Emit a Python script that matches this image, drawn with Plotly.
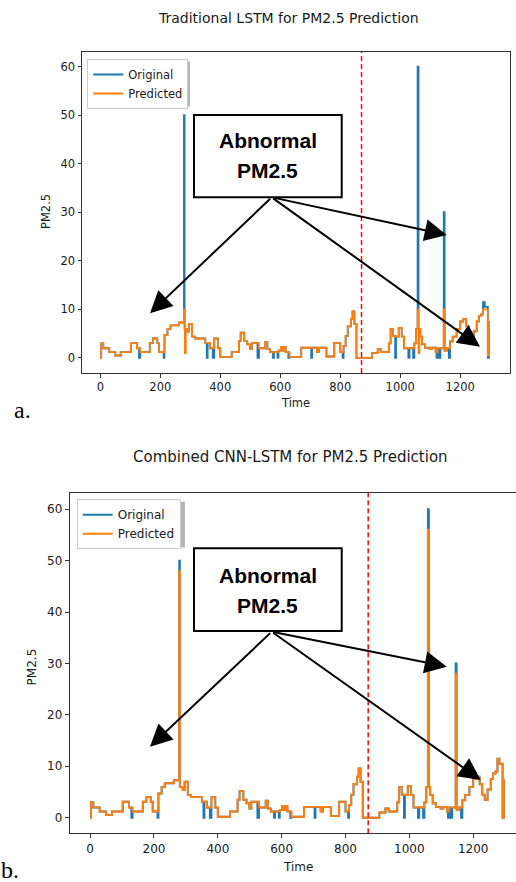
import plotly.graph_objects as go

W, H = 516, 882

# ---------------- data ----------------
# Original PM2.5 series: change points (time index, value); drawn as steps
T_ORIG = [0, 3, 10, 30, 50, 68, 102, 122, 129, 133, 165, 176, 190, 196, 211, 214, 224, 234, 262, 279, 281,
          290, 296, 306, 316, 350, 355, 358, 366, 375, 380, 392, 400, 438, 462, 468, 480, 490, 499, 505, 524,
          529, 550, 557, 566, 576, 579, 591, 594, 602, 607, 612, 618, 627, 631, 670, 703, 706, 722, 729, 754,
          780, 800, 808, 811, 818, 825, 836, 841, 847, 854, 906, 925, 935, 962, 968, 976, 983, 986, 995, 1005,
          1013, 1027, 1031, 1043, 1047, 1053, 1058, 1061, 1065, 1073, 1083, 1098, 1106, 1118, 1121, 1125, 1130,
          1134, 1145, 1148, 1155, 1162, 1166, 1175, 1188, 1200, 1210, 1220, 1228, 1236, 1245, 1255, 1262, 1270,
          1276, 1282, 1292, 1296, 1299]
V_ORIG = [0, 3, 2, 1.2, 0.5, 1.2, 3.1, 2, 0, 1.2, 3.1, 4, 3.1, 1.2, 0, 4.7, 6, 6.7, 7.3, 50, 6,
          5.4, 7, 4.4, 4, 3.1, 0, 3.1, 2, 0, 4, 2, 0.2, 1.2, 3.5, 5.2, 3.5, 2.8, 1.8, 3.1, 0,
          2, 3.3, 1.8, 1.2, 0, 1.2, 0, 1.5, 2.3, 1.5, 2.3, 1.2, 0, 0.2, 2.1, 0, 2.1, 1.2, 2.1, 0.3,
          3.1, 1.2, 0, 2.5, 4.5, 6.5, 8, 9.6, 7, 0, 1, 1.8, 1.2, 3, 6, 4.5, 0, 4.4, 6.2, 4.4,
          2, 0, 2, 0, 3, 6, 60, 6, 4.4, 2.8, 2.1, 1.8, 2.1, 1.2, 0, 2, 0,
          2, 30, 1.5, 2, 0, 3.4, 4.4, 6, 7.5, 8, 6.5, 4.5, 3.5, 5.5, 7.5, 8.6, 9,
          11.5, 10.5, 0, 7.3, 7.3]

# Traditional LSTM prediction
T_LSTM = [0, 3, 10, 30, 50, 68, 102, 122, 133, 165, 176, 190, 196, 214, 224, 234, 262, 279, 282, 285,
          290, 296, 306, 316, 350, 366, 380, 392, 400, 438, 462, 468, 480, 490, 499, 505, 529, 550, 557,
          566, 594, 602, 607, 612, 618, 631, 670, 722, 729, 754, 780, 800, 811, 818, 825, 836, 841, 847,
          854, 906, 925, 935, 962, 968, 976, 986, 995, 1005, 1013, 1047, 1053, 1058, 1061, 1064, 1068, 1073,
          1083, 1098, 1106, 1118, 1125, 1145, 1148, 1155, 1166, 1175, 1188, 1200, 1210, 1220, 1228, 1236,
          1245, 1255, 1262, 1270, 1276, 1292, 1296, 1299]
V_LSTM = [0, 3, 2, 1.2, 0.5, 1.2, 3.1, 2, 1.2, 3.1, 4, 3.1, 1.2, 4.7, 6, 6.7, 7.3, 10, 1, 6,
          5.4, 7, 4.4, 4, 3.1, 2, 4, 2, 0.2, 1.2, 3.5, 5.2, 3.5, 2.8, 1.8, 3.1, 2, 3.3, 1.8,
          1.2, 1.5, 2.3, 1.5, 2.3, 1.2, 0.2, 2.1, 1.2, 2.1, 0.3, 3.1, 1.2, 2.5, 4.5, 6.5, 8, 9.6, 7,
          0, 1, 1.8, 1.2, 3, 6, 4.5, 4.4, 6.2, 4.4, 2, 3, 6, 10, 1, 6, 4.4, 2.8,
          2.1, 1.8, 2.1, 1.2, 2, 10, 1.5, 2, 3.4, 4.4, 6, 7.5, 8, 6.5, 4.5, 3.5,
          5.5, 7.5, 8.6, 9, 10, 0.5, 7.3, 7.3]

# Combined CNN-LSTM prediction
T_CNN = [0, 3, 10, 30, 50, 68, 102, 122, 133, 165, 176, 190, 196, 214, 224, 234, 262, 279, 281,
         290, 296, 306, 316, 350, 366, 380, 392, 400, 438, 462, 468, 480, 490, 499, 505, 529, 550, 557,
         566, 594, 602, 607, 612, 618, 631, 670, 722, 729, 754, 780, 800, 811, 818, 825, 836, 841, 847,
         854, 906, 925, 935, 962, 968, 976, 986, 995, 1005, 1013, 1047, 1053, 1058, 1061, 1065, 1073,
         1083, 1098, 1106, 1118, 1125, 1145, 1148, 1155, 1166, 1175, 1188, 1200, 1210, 1220, 1228, 1236,
         1245, 1255, 1262, 1270, 1276, 1282, 1292, 1296, 1299]
V_CNN = [0, 3, 2, 1.2, 0.5, 1.2, 3.1, 2, 1.2, 3.1, 4, 3.1, 1.2, 4.7, 6, 6.7, 7.3, 48, 6,
         5.4, 7, 4.4, 4, 3.1, 2, 4, 2, 0.2, 1.2, 3.5, 5.2, 3.5, 2.8, 1.8, 3.1, 2, 3.3, 1.8,
         1.2, 1.5, 2.3, 1.5, 2.3, 1.2, 0.2, 2.1, 1.2, 2.1, 0.3, 3.1, 1.2, 2.5, 4.5, 6.5, 8, 9.6, 7,
         0, 1, 1.8, 1.2, 3, 6, 4.5, 4.4, 6.2, 4.4, 2, 3, 6, 56, 6, 4.4, 2.8,
         2.1, 1.8, 2.1, 1.2, 2, 28, 1.5, 2, 3.4, 4.4, 6, 7.5, 8, 6.5, 4.5, 3.5,
         5.5, 7.5, 8.6, 9, 11.5, 10.5, 0, 7.3, 7.3]

SPLIT = 871
X_TICKS = [0, 200, 400, 600, 800, 1000, 1200]
Y_TICKS = [0, 10, 20, 30, 40, 50, 60]
TITLES = ["Traditional LSTM for PM2.5 Prediction", "Combined CNN-LSTM for PM2.5 Prediction"]
NAMES = ["Original", "Predicted"]
BLUE, ORANGE = "#1f77b4", "#ff7f0e"

FONT = "DejaVu Sans"
TXT = "#1a1a1a"
AX = "#333333"


def px(x):
    return x / W


def py(y):
    return 1 - y / H


fig = go.Figure()

# top panel
fig.add_trace(go.Scatter(x=T_ORIG, y=V_ORIG, mode="lines", name=NAMES[0], line=dict(color=BLUE, width=1.8, shape="hv"),
                         xaxis="x", yaxis="y", legend="legend"))
fig.add_trace(go.Scatter(x=T_LSTM, y=V_LSTM, mode="lines", name=NAMES[1], line=dict(color=ORANGE, width=1.8, shape="hv"),
                         xaxis="x", yaxis="y", legend="legend"))
# bottom panel
fig.add_trace(go.Scatter(x=T_ORIG, y=V_ORIG, mode="lines", name=NAMES[0], line=dict(color=BLUE, width=1.9, shape="hv"),
                         xaxis="x2", yaxis="y2", legend="legend2"))
fig.add_trace(go.Scatter(x=T_CNN, y=V_CNN, mode="lines", name=NAMES[1], line=dict(color=ORANGE, width=1.9, shape="hv"),
                         xaxis="x2", yaxis="y2", legend="legend2"))


def axis(domain, rng, ticks, size, ticklen, anchor, mirror):
    return dict(domain=domain, range=rng, tickvals=ticks, ticks="outside", ticklen=ticklen, tickwidth=1,
                tickcolor=AX, showline=True, linecolor=AX, linewidth=1, mirror=mirror, showgrid=False,
                zeroline=False, tickfont=dict(family=FONT, size=size, color=TXT), anchor=anchor, fixedrange=True,
                automargin=False)


fig.update_layout(
    width=W, height=H, margin=dict(l=0, r=0, t=0, b=0, autoexpand=False),
    paper_bgcolor="white", plot_bgcolor="white",
    xaxis=axis([px(82), px(510)], [-61, 1366], X_TICKS, 11.5, 3.5, "y", True),
    yaxis=axis([py(373), py(52)], [-3.1, 63], Y_TICKS, 11.5, 3.5, "x", True),
    xaxis2=axis([px(69.7), 1.0], [-64, 1334], X_TICKS, 12, 4, "y2", True),
    yaxis2=axis([py(833.3), py(492.7)], [-3.03, 63.2], Y_TICKS, 12, 4, "x2", False),
    legend=dict(x=px(87.3), y=py(59), xanchor="left", yanchor="top", bgcolor="white", bordercolor="#cccccc",
                borderwidth=1, font=dict(family=FONT, size=11.5, color=TXT), tracegroupgap=0),
    legend2=dict(x=px(76.7), y=py(499.3), xanchor="left", yanchor="top", bgcolor="white", bordercolor="#cccccc",
                 borderwidth=1, font=dict(family=FONT, size=12, color=TXT), tracegroupgap=0),
    showlegend=True,
)

# red split lines
for xr, yr in (("x", "y domain"), ("x2", "y2 domain")):
    fig.add_shape(type="line", xref=xr, yref=yr, x0=SPLIT, x1=SPLIT, y0=0, y1=1,
                  line=dict(color="red", width=1.5, dash="5px,3px"))

# legend shadows (drawn beneath the legend boxes)
for (x0, y0, x1, y1) in ((87.3, 59, 187.5, 104), (76.7, 499.3, 182.5, 545)):
    fig.add_shape(type="rect", xref="paper", yref="paper", x0=px(x0 + 2.5), x1=px(x1 + 2.5), y0=py(y1 + 2.5),
                  y1=py(y0 + 2.5), fillcolor="#b5b5b5", line=dict(width=0), layer="above")

# annotation boxes
for (x0, y0, x1, y1) in ((194, 115, 341.7, 197.3), (194, 548.3, 341.7, 631)):
    fig.add_shape(type="rect", xref="paper", yref="paper", x0=px(x0), x1=px(x1), y0=py(y1), y1=py(y0),
                  fillcolor="white", line=dict(color="black", width=2), layer="above")

ann = []
# titles, axis labels
ann.append(dict(x=px(288), y=py(18), text=TITLES[0], font=dict(family=FONT, size=14, color=TXT)))
ann.append(dict(x=px(290), y=py(456.7), text=TITLES[1], font=dict(family=FONT, size=15, color=TXT)))
ann.append(dict(x=px(295), y=py(403.3), text="Time", font=dict(family=FONT, size=11.5, color=TXT)))
ann.append(dict(x=px(297.7), y=py(866.7), text="Time", font=dict(family=FONT, size=12, color=TXT)))
ann.append(dict(x=px(46), y=py(212), text="PM2.5", textangle=-90, font=dict(family=FONT, size=11.5, color=TXT)))
ann.append(dict(x=px(31.7), y=py(666.7), text="PM2.5", textangle=-90, font=dict(family=FONT, size=12, color=TXT)))
# panel letters
ann.append(dict(x=px(22), y=py(410), text="a.", font=dict(family="Liberation Serif", size=24, color="black")))
ann.append(dict(x=px(10), y=py(870), text="b.", font=dict(family="Liberation Serif", size=24, color="black")))
# box texts
for cy in (140, 575):
    ann.append(dict(x=px(267.8), y=py(cy), text="<b>Abnormal</b>", font=dict(family="Liberation Sans", size=21, color="black")))
    ann.append(dict(x=px(267.8), y=py(cy + 30), text="<b>PM2.5</b>", font=dict(family="Liberation Sans", size=21, color="black")))
for a in ann:
    a.update(xref="paper", yref="paper", showarrow=False, xanchor="center", yanchor="middle")

# arrows from box bottom centres
arrows = [((271.7, 197.3), (150, 313.3)), ((271.7, 197.3), (446.7, 235)), ((271.7, 197.3), (480, 346.7)),
          ((271.7, 631.7), (150, 746.7)), ((271.7, 631.7), (446.7, 666.7)), ((271.7, 631.7), (480.7, 780))]
for (tx, ty), (hx, hy) in arrows:
    ann.append(dict(xref="paper", yref="paper", x=px(hx), y=py(hy), ax=tx - hx, ay=ty - hy, axref="pixel", ayref="pixel",
                    text="", showarrow=True, arrowhead=2, arrowsize=2.2, arrowwidth=2, arrowcolor="black", standoff=0))

fig.update_layout(annotations=ann)

# remove the default page margin so the figure sits at the window's top-left corner
fig.write_html("out.html", config={"displayModeBar": False},
               post_script="document.body.style.margin='0';document.body.style.overflow='hidden';")
